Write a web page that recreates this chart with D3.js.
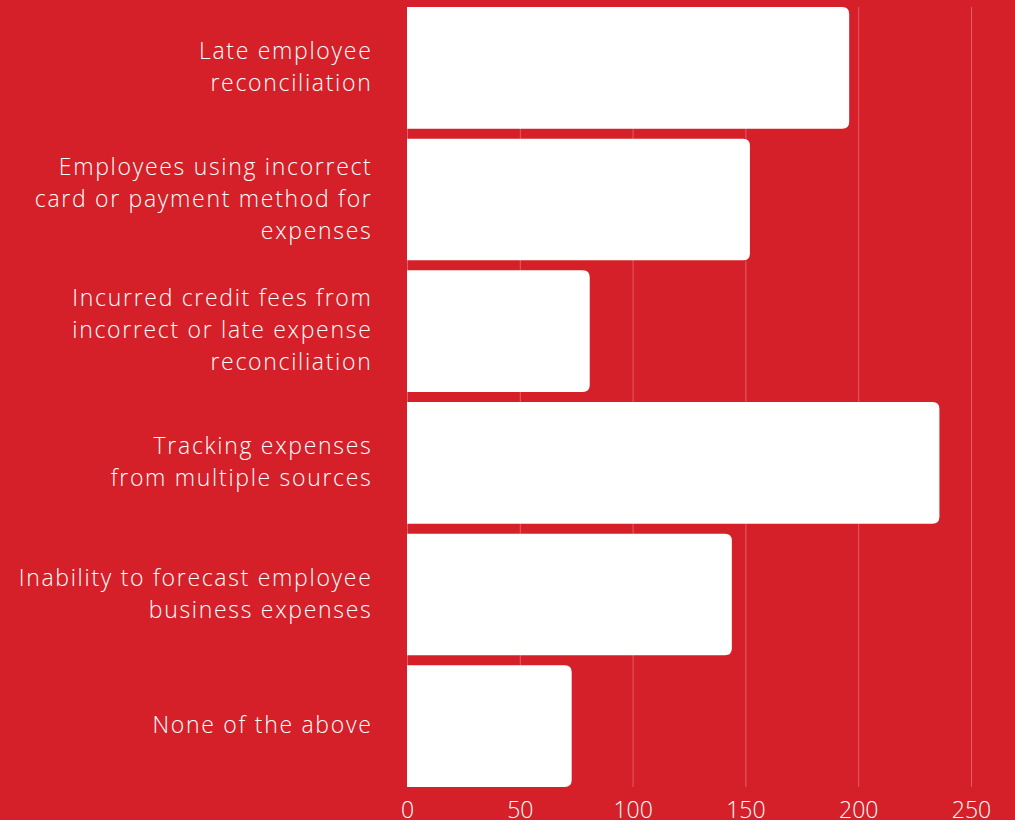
<!DOCTYPE html>
<html>
<head>
<meta charset="utf-8">
<script src="https://cdn.jsdelivr.net/npm/d3@7"></script>
<style>
  html, body { margin: 0; padding: 0; background: #d52029; }
  svg { display: block; }
  text { font-family: "Open Sans", "DejaVu Sans", sans-serif; fill: #ffffff; }
</style>
</head>
<body>
<svg id="chart" width="1015" height="820"></svg>
<script>
// Survey responses: expense-management pain points
const categories = [
  ["Late employee", "reconciliation"],
  ["Employees using incorrect", "card or payment method for", "expenses"],
  ["Incurred credit fees from", "incorrect or late expense", "reconciliation"],
  ["Tracking expenses", "from multiple sources"],
  ["Inability to forecast employee", "business expenses"],
  ["None of the above"]
];
const values = [196, 152, 81, 236, 144, 73];
const tickValues = [0, 50, 100, 150, 200, 250];

const width = 1015, height = 820;
const margin = { top: 2, right: 44, bottom: 28, left: 407 };

const svg = d3.select("#chart");

const x = d3.scaleLinear()
  .domain([0, 250])
  .range([margin.left, width - margin.right]);

const y = d3.scaleBand()
  .domain(d3.range(categories.length))
  .range([margin.top, height - margin.bottom])
  .paddingInner(0.076)
  .paddingOuter(0.038);

// vertical gridlines
svg.append("g")
  .selectAll("line")
  .data(tickValues)
  .join("line")
  .attr("x1", d => x(d) + 0.5)
  .attr("x2", d => x(d) + 0.5)
  .attr("y1", y(0))
  .attr("y2", y(categories.length - 1) + y.bandwidth())
  .attr("stroke", "rgba(255,255,255,0.28)")
  .attr("stroke-width", 1);

// bars with rounded right end
const r = 7;
function barPath(x0, x1, y0, h) {
  const rr = Math.min(r, (x1 - x0));
  return `M${x0},${y0}H${x1 - rr}Q${x1},${y0} ${x1},${y0 + rr}` +
         `V${y0 + h - rr}Q${x1},${y0 + h} ${x1 - rr},${y0 + h}H${x0}Z`;
}

svg.append("g")
  .selectAll("path")
  .data(values)
  .join("path")
  .attr("d", (d, i) => barPath(x(0), x(d), y(i), y.bandwidth()))
  .attr("fill", "#ffffff");

// category labels, right-aligned left of the bars
const lineH = 32;
const labelX = 372.5;
const labels = svg.append("g")
  .attr("font-size", 23)
  .attr("font-weight", 300)
  .attr("letter-spacing", "1.7px")
  .attr("text-anchor", "end");

categories.forEach((lines, i) => {
  const cy = y(i) + y.bandwidth() / 2 - 1;
  const top = cy - (lines.length - 1) * lineH / 2;
  const t = labels.append("text");
  lines.forEach((ln, j) => {
    t.append("tspan")
      .attr("x", labelX)
      .attr("y", top + j * lineH)
      .attr("dy", "0.357em")
      .text(ln);
  });
});

// x axis tick labels
const axis = d3.axisBottom(x).tickValues(tickValues).tickSize(0).tickPadding(0);
const gx = svg.append("g")
  .attr("transform", `translate(0, ${height - 20})`)
  .call(axis);
gx.select(".domain").remove();
gx.selectAll("text")
  .attr("font-size", 23)
  .attr("font-weight", 300)
  .attr("font-family", "\"Open Sans\", sans-serif")
  .attr("fill", "#ffffff")
  .attr("dy", "0.357em")
  .attr("y", 10);
</script>
</body>
</html>
